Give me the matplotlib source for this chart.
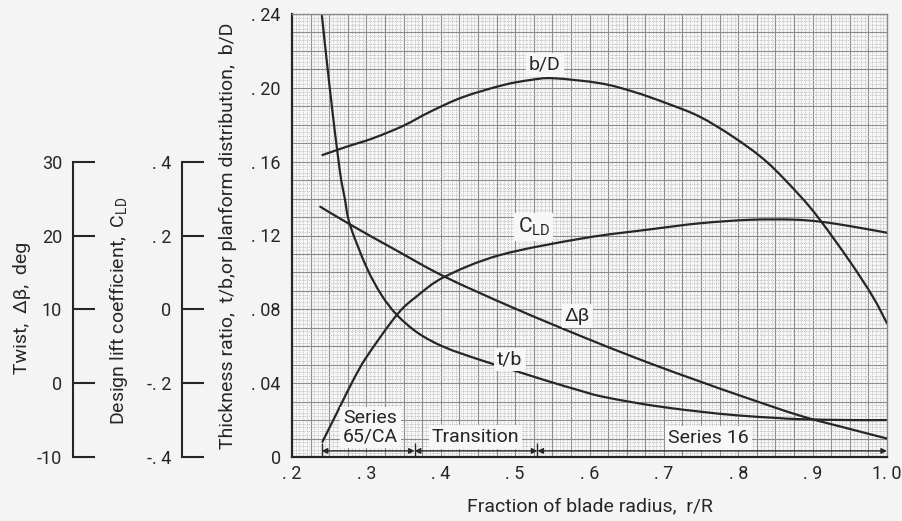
import matplotlib
matplotlib.use('Agg')
import matplotlib.pyplot as plt
from matplotlib import font_manager as fm
from matplotlib.path import Path
from matplotlib.patches import PathPatch
from matplotlib.ticker import MultipleLocator, FixedLocator, FixedFormatter

# ---- font: Roboto (narrow-ish sans) if installed ----
_names = {f.name for f in fm.fontManager.ttflist}
family = 'Roboto' if 'Roboto' in _names else 'DejaVu Sans'
plt.rcParams['font.family'] = [family, 'DejaVu Sans']
plt.rcParams['font.size'] = 13
FS = 13 if family == 'Roboto' else 12      # tick labels
FL = 14 if family == 'Roboto' else 12.5    # axis labels / annotations

# ---------------- data ----------------
# thickness ratio t/b vs r/R
r_tb = [0.240, 0.251, 0.264, 0.271, 0.278, 0.300, 0.320, 0.341, 0.370, 0.405,
        0.450, 0.4975, 0.545, 0.587, 0.614, 0.660, 0.700, 0.748, 0.800, 0.850,
        0.883, 0.950, 1.000]
tb = [0.240, 0.199, 0.156, 0.140, 0.1257, 0.103, 0.088, 0.077, 0.067, 0.0595,
      0.053, 0.047, 0.041, 0.0360, 0.0330, 0.0295, 0.0270, 0.0246, 0.0225, 0.0212,
      0.0205, 0.0200, 0.0200]

# planform distribution b/D vs r/R
r_bd = [0.241, 0.2735, 0.309, 0.350, 0.3855, 0.430, 0.484, 0.520, 0.551, 0.614,
        0.659, 0.704, 0.748, 0.793, 0.838, 0.883, 0.910, 0.950, 0.981, 1.000]
bd = [0.1636, 0.1681, 0.1727, 0.1795, 0.1870, 0.1950, 0.2015, 0.2042, 0.2052, 0.2025,
      0.1979, 0.1916, 0.1844, 0.1735, 0.1600, 0.1415, 0.1284, 0.1060, 0.0868, 0.0724]

# design lift coefficient C_LD vs r/R
r_cl = [0.241, 0.2645, 0.2824, 0.3004, 0.341, 0.3676, 0.4056, 0.4796, 0.5915,
        0.681, 0.748, 0.8156, 0.873, 0.910, 0.950, 1.000]
cld = [-0.3585, -0.2635, -0.1915, -0.1285, -0.015, 0.035, 0.0885, 0.147, 0.1925,
       0.2165, 0.233, 0.2425, 0.2430, 0.2375, 0.2255, 0.2075]

# twist delta-beta (deg) vs r/R
r_tw = [0.238, 0.278, 0.340, 0.4056, 0.500, 0.600, 0.681, 0.748, 0.800, 0.883, 0.950, 1.000]
twist = [23.9, 21.5, 18.0, 14.4, 10.1, 5.9, 2.7, 0.25, -1.6, -4.4, -6.2, -7.5]

# axis ticks / labels
x_ticks = [0.2, 0.3, 0.4, 0.5, 0.6, 0.7, 0.8, 0.9, 1.0]
x_labels = ['. 2', '. 3', '. 4', '. 5', '. 6', '. 7', '. 8', '. 9', '1. 0']
y_ticks = [0, 0.04, 0.08, 0.12, 0.16, 0.20, 0.24]
y_labels = ['0', '. 04', '. 08', '. 12', '. 16', '. 20', '. 24']
cl_ticks = [-0.4, -0.2, 0.0, 0.2, 0.4]
cl_labels = ['-. 4', '-. 2', '0', '. 2', '. 4']
tw_ticks = [-10, 0, 10, 20, 30]
tw_labels = ['-10', '0', '10', '20', '30']

# airfoil section ranges along the blade
section_bounds = [0.24, 0.365, 0.53, 1.0]
section_names = ['Series\n65/CA', 'Transition', 'Series 16']

# ---------------- helpers ----------------
ink = '#262626'
paper = '#f4f4f4'


def smooth_curve(axis, xs, ys, **kw):
    """Draw a smooth (Catmull-Rom as cubic Bezier) curve through the data points."""
    pts = list(zip(xs, ys))
    verts = [pts[0]]
    codes = [Path.MOVETO]
    n = len(pts)
    for i in range(n - 1):
        p0 = pts[i - 1] if i > 0 else pts[i]
        p1 = pts[i]
        p2 = pts[i + 1]
        p3 = pts[i + 2] if i + 2 < n else pts[i + 1]
        c1 = (p1[0] + (p2[0] - p0[0]) / 6.0, p1[1] + (p2[1] - p0[1]) / 6.0)
        c2 = (p2[0] - (p3[0] - p1[0]) / 6.0, p2[1] - (p3[1] - p1[1]) / 6.0)
        verts += [c1, c2, p2]
        codes += [Path.CURVE4] * 3
    patch = PathPatch(Path(verts, codes), fill=False, transform=axis.transData,
                      capstyle='round', joinstyle='round', **kw)
    axis.add_patch(patch)
    return patch


# ---------------- figure ----------------
fig = plt.figure(figsize=(9.02, 5.21), dpi=100, facecolor=paper)
rect = [292 / 902, 64 / 521, 595 / 902, 443 / 521]

# graph-paper background
bg = fig.add_axes(rect, zorder=0)
bg.set_facecolor('#f7f7f7')
bg.set_xlim(0.2, 1.0)
bg.set_ylim(0, 0.24)
bg.xaxis.set_major_locator(MultipleLocator(0.025))
bg.xaxis.set_minor_locator(MultipleLocator(0.005))
bg.yaxis.set_major_locator(MultipleLocator(0.01))
bg.yaxis.set_minor_locator(MultipleLocator(0.002))
bg.grid(which='major', color='#8c8c8c', lw=0.8)
bg.grid(which='minor', color='#b4b4b4', lw=0.6, ls=(0, (1, 1.2)))
bg.tick_params(which='both', length=0, labelleft=False, labelbottom=False)
for s in bg.spines.values():
    s.set_visible(False)

# main axes
ax = fig.add_axes(rect, zorder=1)
ax.set_facecolor('none')
ax.set_xlim(0.2, 1.0)
ax.set_ylim(0, 0.24)
ax.xaxis.set_major_locator(FixedLocator(x_ticks))
ax.xaxis.set_major_formatter(FixedFormatter(x_labels))
ax.yaxis.set_major_locator(FixedLocator(y_ticks))
ax.yaxis.set_major_formatter(FixedFormatter(y_labels))
ax.tick_params(axis='both', length=0, labelsize=FS, colors=ink)
ax.tick_params(axis='x', pad=6)
ax.tick_params(axis='y', pad=8)
for side in ['left', 'bottom']:
    ax.spines[side].set_color(ink)
    ax.spines[side].set_linewidth(1.6)
for side in ['top', 'right']:
    ax.spines[side].set_color('#8a8a8a')
    ax.spines[side].set_linewidth(1.0)
ax.set_xlabel('Fraction of blade radius,  r/R', fontsize=FL, color=ink)
ax.xaxis.set_label_coords(0.5, -0.091)
ax.set_ylabel('Thickness ratio,  t/b,or planform distribution,  b/D', fontsize=FL, color=ink)
ax.yaxis.set_label_coords(-0.093, 0.5)

smooth_curve(ax, r_tb, tb, color=ink, lw=1.6)
smooth_curve(ax, r_bd, bd, color=ink, lw=1.6)


def side_axis(ylim, ticks, labels, offset, label, label_x, label_y):
    a = ax.twinx()
    a.set_zorder(2)
    a.set_facecolor('none')
    a.set_ylim(*ylim)
    for s in ['top', 'right', 'bottom']:
        a.spines[s].set_visible(False)
    sp = a.spines['left']
    sp.set_visible(True)
    sp.set_position(('outward', offset))
    sp.set_bounds(ticks[0], ticks[-1])
    sp.set_color(ink)
    sp.set_linewidth(1.5)
    a.yaxis.set_ticks_position('left')
    a.yaxis.set_label_position('left')
    a.yaxis.set_major_locator(FixedLocator(ticks))
    a.yaxis.set_major_formatter(FixedFormatter(labels))
    a.tick_params(axis='y', direction='in', length=16, width=1.5, colors=ink,
                  labelsize=FS, pad=8)
    a.set_ylabel(label, fontsize=FL, color=ink)
    a.yaxis.set_label_coords(label_x, label_y)
    return a


ax_cl = side_axis((-0.4, 0.8), cl_ticks, cl_labels, 110 * 0.72,
                  'Design lift coefficient,  $\\mathregular{C_{LD}}$', -0.272, 0.33)
ax_tw = side_axis((-10, 50), tw_ticks, tw_labels, 219 * 0.72,
                  'Twist,  Δβ,  deg', -0.438, 0.336)

smooth_curve(ax_cl, r_cl, cld, color=ink, lw=1.6)
smooth_curve(ax_tw, r_tw, twist, color=ink, lw=1.6)

# curve labels (on top-most axes, placed in main data coords)
box = dict(boxstyle='square,pad=0.15', fc='#f7f7f7', ec='none')
T = ax.transData
ax_tw.text(0.540, 0.2124, 'b/D', transform=T, ha='center', va='center', color=ink,
           fontsize=FL, bbox=box)
ax_tw.text(0.525, 0.1245, '$\\mathregular{C_{LD}}$', transform=T, ha='center', va='center',
           color=ink, fontsize=FL + 1, bbox=box)
ax_tw.text(0.584, 0.0765, 'Δβ', transform=T, ha='center', va='center', color=ink,
           fontsize=FL, bbox=box)
ax_tw.text(0.493, 0.0528, 't/b', transform=T, ha='center', va='center', color=ink,
           fontsize=FL, bbox=box)

# section dimension lines
y_dim = 0.0033
for i in range(len(section_names)):
    ax_tw.annotate('', xy=(section_bounds[i + 1], y_dim), xytext=(section_bounds[i], y_dim),
                   xycoords=T, textcoords=T,
                   arrowprops=dict(arrowstyle='<|-|>', color=ink, lw=1.0,
                                   mutation_scale=8, shrinkA=0, shrinkB=0))
ax_tw.vlines(section_bounds[:-1], [0] * (len(section_bounds) - 1),
             [0.0075] * (len(section_bounds) - 1), transform=T, color=ink, lw=1.0)

ax_tw.text(0.305, 0.0160, section_names[0], transform=T, ha='center', va='center',
           color=ink, linespacing=1.0, fontsize=FL, bbox=box)
ax_tw.text(0.447, 0.0107, section_names[1], transform=T, ha='center', va='center',
           color=ink, fontsize=FL, bbox=box)
ax_tw.text(0.760, 0.0101, section_names[2], transform=T, ha='center', va='center',
           color=ink, fontsize=FL, bbox=box)

fig.savefig('out.png', dpi=100, facecolor=paper)
